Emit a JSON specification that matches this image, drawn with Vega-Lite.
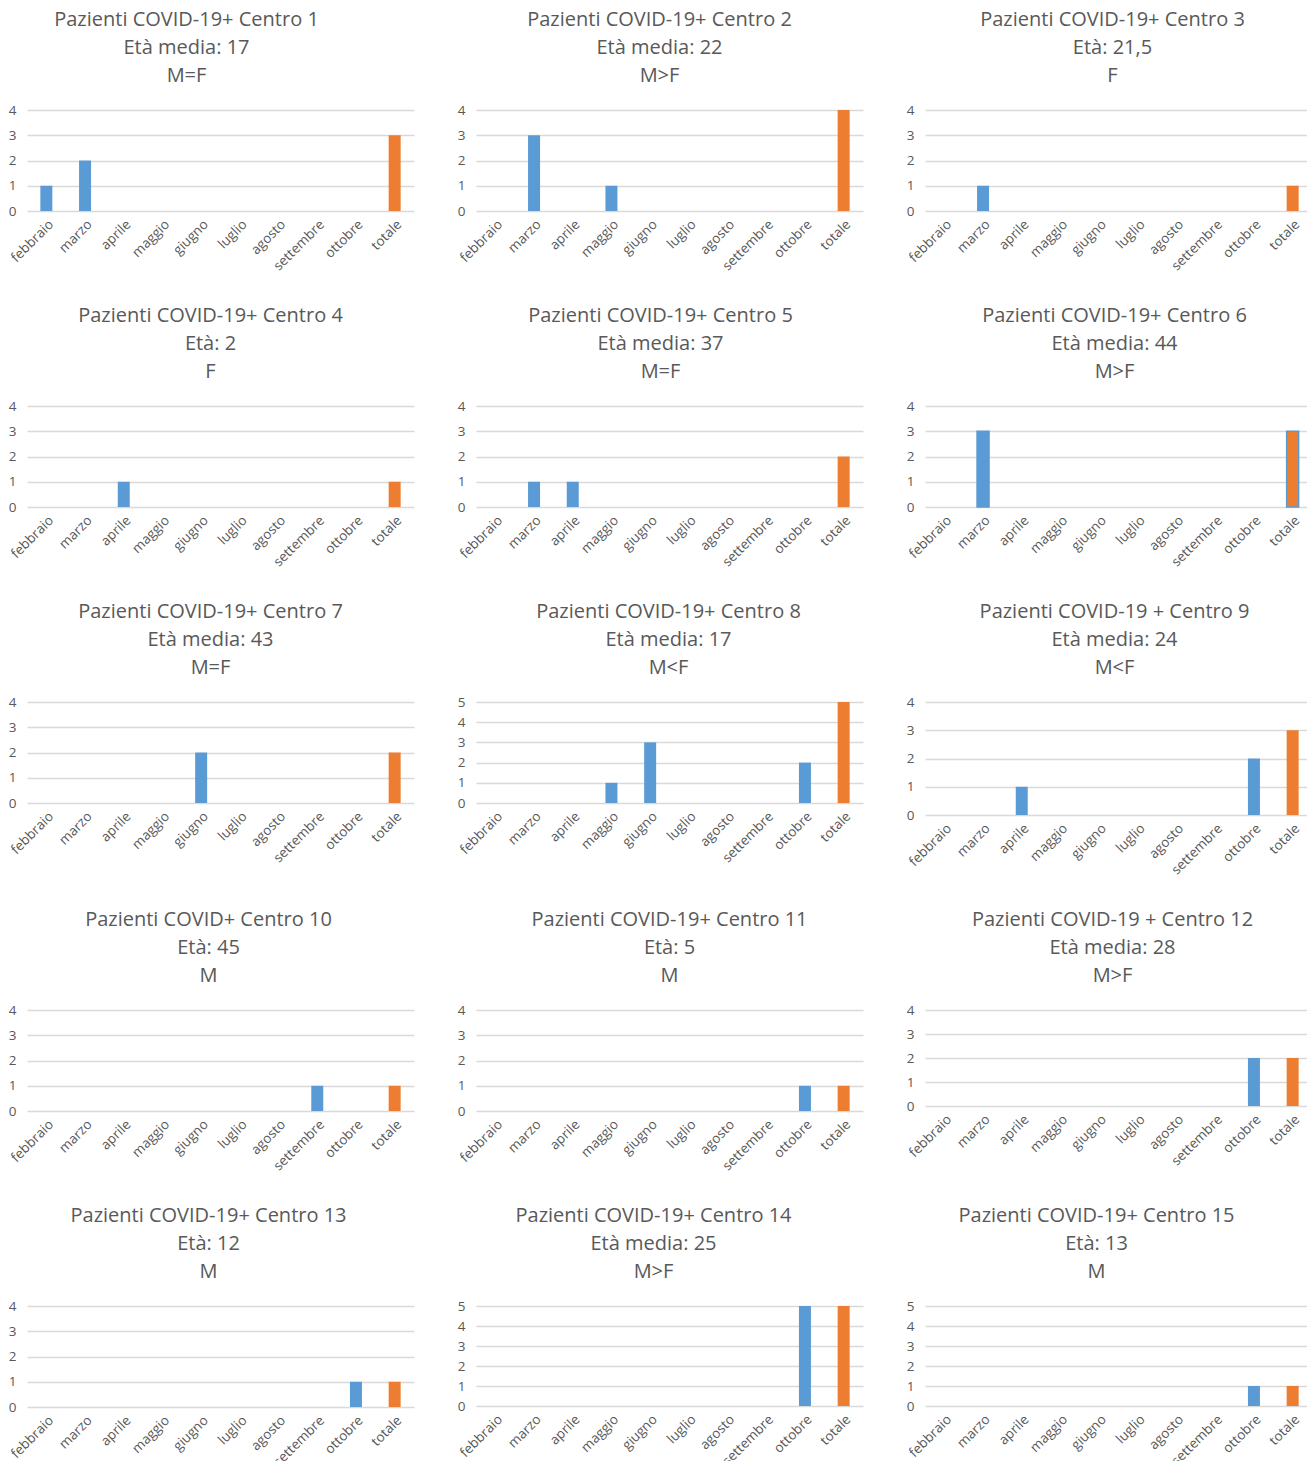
{
  "$schema": "https://vega.github.io/schema/vega-lite/v6.json",
  "background": "white",
  "padding": {"left": 8, "top": 10, "right": 0, "bottom": 0},
  "columns": 3,
  "spacing": {"row": 33, "column": 43},
  "data": {"values": [
    {"c": 1, "mese": "febbraio", "n": 1, "tipo": "mese"},
    {"c": 1, "mese": "marzo", "n": 2, "tipo": "mese"},
    {"c": 1, "mese": "totale", "n": 3, "tipo": "totale"},
    {"c": 2, "mese": "marzo", "n": 3, "tipo": "mese"},
    {"c": 2, "mese": "maggio", "n": 1, "tipo": "mese"},
    {"c": 2, "mese": "totale", "n": 4, "tipo": "totale"},
    {"c": 3, "mese": "marzo", "n": 1, "tipo": "mese"},
    {"c": 3, "mese": "totale", "n": 1, "tipo": "totale"},
    {"c": 4, "mese": "aprile", "n": 1, "tipo": "mese"},
    {"c": 4, "mese": "totale", "n": 1, "tipo": "totale"},
    {"c": 5, "mese": "marzo", "n": 1, "tipo": "mese"},
    {"c": 5, "mese": "aprile", "n": 1, "tipo": "mese"},
    {"c": 5, "mese": "totale", "n": 2, "tipo": "totale"},
    {"c": 6, "mese": "marzo", "n": 3, "tipo": "mese"},
    {"c": 6, "mese": "totale", "n": 3, "tipo": "totale"},
    {"c": 7, "mese": "giugno", "n": 2, "tipo": "mese"},
    {"c": 7, "mese": "totale", "n": 2, "tipo": "totale"},
    {"c": 8, "mese": "maggio", "n": 1, "tipo": "mese"},
    {"c": 8, "mese": "giugno", "n": 3, "tipo": "mese"},
    {"c": 8, "mese": "ottobre", "n": 2, "tipo": "mese"},
    {"c": 8, "mese": "totale", "n": 5, "tipo": "totale"},
    {"c": 9, "mese": "aprile", "n": 1, "tipo": "mese"},
    {"c": 9, "mese": "ottobre", "n": 2, "tipo": "mese"},
    {"c": 9, "mese": "totale", "n": 3, "tipo": "totale"},
    {"c": 10, "mese": "settembre", "n": 1, "tipo": "mese"},
    {"c": 10, "mese": "totale", "n": 1, "tipo": "totale"},
    {"c": 11, "mese": "ottobre", "n": 1, "tipo": "mese"},
    {"c": 11, "mese": "totale", "n": 1, "tipo": "totale"},
    {"c": 12, "mese": "ottobre", "n": 2, "tipo": "mese"},
    {"c": 12, "mese": "totale", "n": 2, "tipo": "totale"},
    {"c": 13, "mese": "ottobre", "n": 1, "tipo": "mese"},
    {"c": 13, "mese": "totale", "n": 1, "tipo": "totale"},
    {"c": 14, "mese": "ottobre", "n": 5, "tipo": "mese"},
    {"c": 14, "mese": "totale", "n": 5, "tipo": "totale"},
    {"c": 15, "mese": "ottobre", "n": 1, "tipo": "mese"},
    {"c": 15, "mese": "totale", "n": 1, "tipo": "totale"}
  ]},
  "concat": [
    {"width": 387, "height": 101, "title": {"text": ["Pazienti COVID-19+ Centro 1", "Età media: 17", "M=F"], "dx": -34},
     "transform": [{"filter": "datum.c == 1"}], "mark": {"type": "bar", "width": 12},
     "encoding": {"x": {"field": "mese", "type": "nominal", "scale": {"domain": ["febbraio","marzo","aprile","maggio","giugno","luglio","agosto","settembre","ottobre","totale"]}, "title": null},
       "y": {"field": "n", "type": "quantitative", "scale": {"domain": [0, 4]}, "axis": {"values": [0,1,2,3,4]}, "title": null},
       "color": {"field": "tipo", "type": "nominal", "scale": {"domain": ["mese","totale"], "range": ["#5b9bd5","#ed7d31"]}, "legend": null}}},
    {"width": 387, "height": 101, "title": {"text": ["Pazienti COVID-19+ Centro 2", "Età media: 22", "M>F"], "dx": -10},
     "transform": [{"filter": "datum.c == 2"}], "mark": {"type": "bar", "width": 12},
     "encoding": {"x": {"field": "mese", "type": "nominal", "scale": {"domain": ["febbraio","marzo","aprile","maggio","giugno","luglio","agosto","settembre","ottobre","totale"]}, "title": null},
       "y": {"field": "n", "type": "quantitative", "scale": {"domain": [0, 4]}, "axis": {"values": [0,1,2,3,4]}, "title": null},
       "color": {"field": "tipo", "type": "nominal", "scale": {"domain": ["mese","totale"], "range": ["#5b9bd5","#ed7d31"]}, "legend": null}}},
    {"width": 387, "height": 101, "title": {"text": ["Pazienti COVID-19+ Centro 3", "Età: 21,5", "F"], "dx": -6},
     "transform": [{"filter": "datum.c == 3"}], "mark": {"type": "bar", "width": 12},
     "encoding": {"x": {"field": "mese", "type": "nominal", "scale": {"domain": ["febbraio","marzo","aprile","maggio","giugno","luglio","agosto","settembre","ottobre","totale"]}, "title": null},
       "y": {"field": "n", "type": "quantitative", "scale": {"domain": [0, 4]}, "axis": {"values": [0,1,2,3,4]}, "title": null},
       "color": {"field": "tipo", "type": "nominal", "scale": {"domain": ["mese","totale"], "range": ["#5b9bd5","#ed7d31"]}, "legend": null}}},
    {"width": 387, "height": 101, "title": {"text": ["Pazienti COVID-19+ Centro 4", "Età: 2", "F"], "dx": -10},
     "transform": [{"filter": "datum.c == 4"}], "mark": {"type": "bar", "width": 12},
     "encoding": {"x": {"field": "mese", "type": "nominal", "scale": {"domain": ["febbraio","marzo","aprile","maggio","giugno","luglio","agosto","settembre","ottobre","totale"]}, "title": null},
       "y": {"field": "n", "type": "quantitative", "scale": {"domain": [0, 4]}, "axis": {"values": [0,1,2,3,4]}, "title": null},
       "color": {"field": "tipo", "type": "nominal", "scale": {"domain": ["mese","totale"], "range": ["#5b9bd5","#ed7d31"]}, "legend": null}}},
    {"width": 387, "height": 101, "title": {"text": ["Pazienti COVID-19+ Centro 5", "Età media: 37", "M=F"], "dx": -9},
     "transform": [{"filter": "datum.c == 5"}], "mark": {"type": "bar", "width": 12},
     "encoding": {"x": {"field": "mese", "type": "nominal", "scale": {"domain": ["febbraio","marzo","aprile","maggio","giugno","luglio","agosto","settembre","ottobre","totale"]}, "title": null},
       "y": {"field": "n", "type": "quantitative", "scale": {"domain": [0, 4]}, "axis": {"values": [0,1,2,3,4]}, "title": null},
       "color": {"field": "tipo", "type": "nominal", "scale": {"domain": ["mese","totale"], "range": ["#5b9bd5","#ed7d31"]}, "legend": null}}},
    {"width": 387, "height": 101, "title": {"text": ["Pazienti COVID-19+ Centro 6", "Età media: 44", "M>F"], "dx": -4},
     "transform": [{"filter": "datum.c == 6"}], "mark": {"type": "bar", "width": 12, "stroke": "#5b9bd5", "strokeWidth": 1.5},
     "encoding": {"x": {"field": "mese", "type": "nominal", "scale": {"domain": ["febbraio","marzo","aprile","maggio","giugno","luglio","agosto","settembre","ottobre","totale"]}, "title": null},
       "y": {"field": "n", "type": "quantitative", "scale": {"domain": [0, 4]}, "axis": {"values": [0,1,2,3,4]}, "title": null},
       "color": {"field": "tipo", "type": "nominal", "scale": {"domain": ["mese","totale"], "range": ["#5b9bd5","#ed7d31"]}, "legend": null}}},
    {"width": 387, "height": 101, "title": {"text": ["Pazienti COVID-19+ Centro 7", "Età media: 43", "M=F"], "dx": -10},
     "transform": [{"filter": "datum.c == 7"}], "mark": {"type": "bar", "width": 12},
     "encoding": {"x": {"field": "mese", "type": "nominal", "scale": {"domain": ["febbraio","marzo","aprile","maggio","giugno","luglio","agosto","settembre","ottobre","totale"]}, "title": null},
       "y": {"field": "n", "type": "quantitative", "scale": {"domain": [0, 4]}, "axis": {"values": [0,1,2,3,4]}, "title": null},
       "color": {"field": "tipo", "type": "nominal", "scale": {"domain": ["mese","totale"], "range": ["#5b9bd5","#ed7d31"]}, "legend": null}}},
    {"width": 387, "height": 101, "title": {"text": ["Pazienti COVID-19+ Centro 8", "Età media: 17", "M<F"], "dx": -1},
     "transform": [{"filter": "datum.c == 8"}], "mark": {"type": "bar", "width": 12},
     "encoding": {"x": {"field": "mese", "type": "nominal", "scale": {"domain": ["febbraio","marzo","aprile","maggio","giugno","luglio","agosto","settembre","ottobre","totale"]}, "title": null},
       "y": {"field": "n", "type": "quantitative", "scale": {"domain": [0, 5]}, "axis": {"values": [0,1,2,3,4,5]}, "title": null},
       "color": {"field": "tipo", "type": "nominal", "scale": {"domain": ["mese","totale"], "range": ["#5b9bd5","#ed7d31"]}, "legend": null}}},
    {"width": 387, "height": 113, "title": {"text": ["Pazienti COVID-19 + Centro 9", "Età media: 24", "M<F"], "dx": -4},
     "transform": [{"filter": "datum.c == 9"}], "mark": {"type": "bar", "width": 12},
     "encoding": {"x": {"field": "mese", "type": "nominal", "scale": {"domain": ["febbraio","marzo","aprile","maggio","giugno","luglio","agosto","settembre","ottobre","totale"]}, "title": null},
       "y": {"field": "n", "type": "quantitative", "scale": {"domain": [0, 4]}, "axis": {"values": [0,1,2,3,4]}, "title": null},
       "color": {"field": "tipo", "type": "nominal", "scale": {"domain": ["mese","totale"], "range": ["#5b9bd5","#ed7d31"]}, "legend": null}}},
    {"width": 387, "height": 101, "title": {"text": ["Pazienti COVID+ Centro 10", "Età: 45", "M"], "dx": -12},
     "transform": [{"filter": "datum.c == 10"}], "mark": {"type": "bar", "width": 12},
     "encoding": {"x": {"field": "mese", "type": "nominal", "scale": {"domain": ["febbraio","marzo","aprile","maggio","giugno","luglio","agosto","settembre","ottobre","totale"]}, "title": null},
       "y": {"field": "n", "type": "quantitative", "scale": {"domain": [0, 4]}, "axis": {"values": [0,1,2,3,4]}, "title": null},
       "color": {"field": "tipo", "type": "nominal", "scale": {"domain": ["mese","totale"], "range": ["#5b9bd5","#ed7d31"]}, "legend": null}}},
    {"width": 387, "height": 101, "title": {"text": ["Pazienti COVID-19+ Centro 11", "Età: 5", "M"], "dx": 0},
     "transform": [{"filter": "datum.c == 11"}], "mark": {"type": "bar", "width": 12},
     "encoding": {"x": {"field": "mese", "type": "nominal", "scale": {"domain": ["febbraio","marzo","aprile","maggio","giugno","luglio","agosto","settembre","ottobre","totale"]}, "title": null},
       "y": {"field": "n", "type": "quantitative", "scale": {"domain": [0, 4]}, "axis": {"values": [0,1,2,3,4]}, "title": null},
       "color": {"field": "tipo", "type": "nominal", "scale": {"domain": ["mese","totale"], "range": ["#5b9bd5","#ed7d31"]}, "legend": null}}},
    {"width": 387, "height": 96, "title": {"text": ["Pazienti COVID-19 + Centro 12", "Età media: 28", "M>F"], "dx": -6},
     "transform": [{"filter": "datum.c == 12"}], "mark": {"type": "bar", "width": 12},
     "encoding": {"x": {"field": "mese", "type": "nominal", "scale": {"domain": ["febbraio","marzo","aprile","maggio","giugno","luglio","agosto","settembre","ottobre","totale"]}, "title": null},
       "y": {"field": "n", "type": "quantitative", "scale": {"domain": [0, 4]}, "axis": {"values": [0,1,2,3,4]}, "title": null},
       "color": {"field": "tipo", "type": "nominal", "scale": {"domain": ["mese","totale"], "range": ["#5b9bd5","#ed7d31"]}, "legend": null}}},
    {"width": 387, "height": 101, "title": {"text": ["Pazienti COVID-19+ Centro 13", "Età: 12", "M"], "dx": -12},
     "transform": [{"filter": "datum.c == 13"}], "mark": {"type": "bar", "width": 12},
     "encoding": {"x": {"field": "mese", "type": "nominal", "scale": {"domain": ["febbraio","marzo","aprile","maggio","giugno","luglio","agosto","settembre","ottobre","totale"]}, "title": null},
       "y": {"field": "n", "type": "quantitative", "scale": {"domain": [0, 4]}, "axis": {"values": [0,1,2,3,4]}, "title": null},
       "color": {"field": "tipo", "type": "nominal", "scale": {"domain": ["mese","totale"], "range": ["#5b9bd5","#ed7d31"]}, "legend": null}}},
    {"width": 387, "height": 100, "title": {"text": ["Pazienti COVID-19+ Centro 14", "Età media: 25", "M>F"], "dx": -16},
     "transform": [{"filter": "datum.c == 14"}], "mark": {"type": "bar", "width": 12},
     "encoding": {"x": {"field": "mese", "type": "nominal", "scale": {"domain": ["febbraio","marzo","aprile","maggio","giugno","luglio","agosto","settembre","ottobre","totale"]}, "title": null},
       "y": {"field": "n", "type": "quantitative", "scale": {"domain": [0, 5]}, "axis": {"values": [0,1,2,3,4,5]}, "title": null},
       "color": {"field": "tipo", "type": "nominal", "scale": {"domain": ["mese","totale"], "range": ["#5b9bd5","#ed7d31"]}, "legend": null}}},
    {"width": 387, "height": 100, "title": {"text": ["Pazienti COVID-19+ Centro 15", "Età: 13", "M"], "dx": -22},
     "transform": [{"filter": "datum.c == 15"}], "mark": {"type": "bar", "width": 12},
     "encoding": {"x": {"field": "mese", "type": "nominal", "scale": {"domain": ["febbraio","marzo","aprile","maggio","giugno","luglio","agosto","settembre","ottobre","totale"]}, "title": null},
       "y": {"field": "n", "type": "quantitative", "scale": {"domain": [0, 5]}, "axis": {"values": [0,1,2,3,4,5]}, "title": null},
       "color": {"field": "tipo", "type": "nominal", "scale": {"domain": ["mese","totale"], "range": ["#5b9bd5","#ed7d31"]}, "legend": null}}}
  ],
  "config": {
    "view": {"stroke": null},
    "font": "Open Sans",
    "title": {"fontSize": 20, "fontWeight": "normal", "color": "#595959", "font": "Open Sans", "lineHeight": 28, "anchor": "middle", "frame": "group", "offset": 17},
    "scale": {"bandPaddingInner": 0, "bandPaddingOuter": 0},
    "axis": {"domain": false, "ticks": false, "labelColor": "#595959", "labelFont": "Open Sans", "labelFontSize": 13.5},
    "axisX": {"labelAngle": -45, "grid": false, "labelPadding": 6},
    "axisY": {"grid": true, "gridColor": "#d9d9d9", "gridWidth": 1.3, "labelPadding": 11}
  }
}
